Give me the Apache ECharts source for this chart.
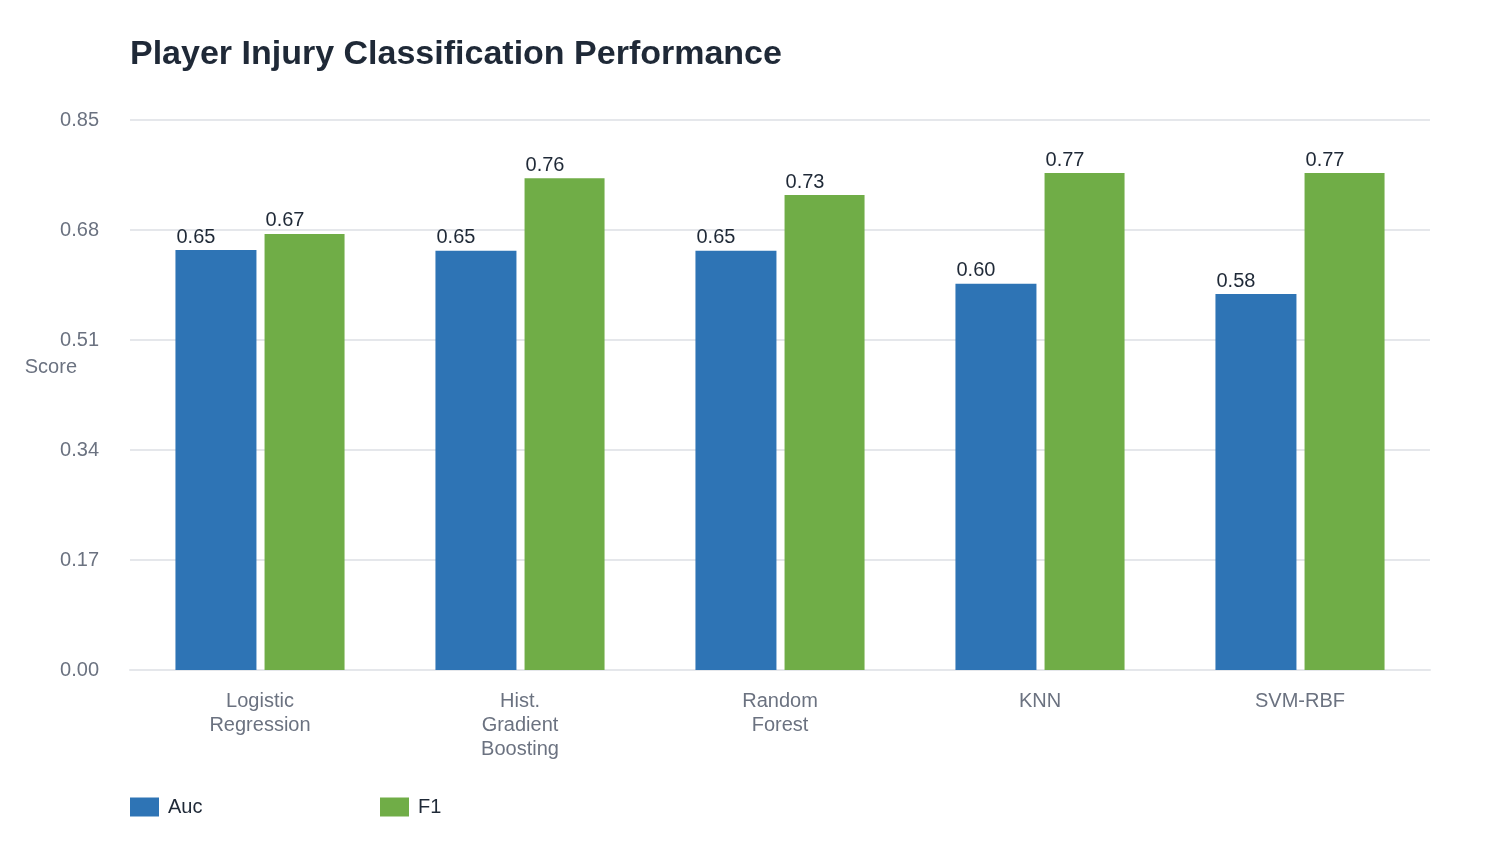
<!DOCTYPE html>
<html>
<head>
<meta charset="utf-8">
<script src="https://cdn.jsdelivr.net/npm/echarts@6/dist/echarts.min.js"></script>
<style>
  html, body { margin: 0; padding: 0; background: #fff; }
  #chart { width: 1500px; height: 850px; }
</style>
</head>
<body>
<div id="chart"></div>
<script>
var models = ['Logistic\nRegression', 'Hist.\nGradient\nBoosting', 'Random\nForest', 'KNN', 'SVM-RBF'];
var aucValues = [0.649, 0.648, 0.648, 0.597, 0.581];
var f1Values = [0.674, 0.760, 0.734, 0.768, 0.768];
var yTicks = [0, 0.17, 0.34, 0.51, 0.68, 0.85];

var chart = echarts.init(document.getElementById('chart'), null, { renderer: 'canvas' });

var font = 'Liberation Sans';

// value labels sit above the bar, aligned to its left edge
var labelStyle = {
    show: true,
    position: [1, -3],
    align: 'left',
    verticalAlign: 'bottom',
    color: '#1f2937',
    fontSize: 20,
    fontFamily: font,
    formatter: function (p) { return p.value.toFixed(2); }
};

var legendText = { fontSize: 20, color: '#1f2937', fontFamily: font, padding: [0, 0, 0, 4] };

var option = {
    animation: false,
    textStyle: { fontFamily: font },
    title: {
        text: 'Player Injury Classification Performance',
        left: 130,
        top: 38,
        padding: 0,
        textStyle: { fontSize: 34, fontWeight: 'bold', color: '#1f2937', fontFamily: font }
    },
    legend: [
        {
            left: 130, bottom: 33, padding: 0,
            itemWidth: 29, itemHeight: 19, icon: 'rect',
            textStyle: legendText,
            data: ['Auc']
        },
        {
            left: 380, bottom: 33, padding: 0,
            itemWidth: 29, itemHeight: 19, icon: 'rect',
            textStyle: legendText,
            data: ['F1']
        }
    ],
    grid: { left: 130, right: 70, top: 120, bottom: 180, containLabel: false },
    xAxis: {
        type: 'category',
        data: models,
        axisTick: { show: false },
        axisLine: { lineStyle: { color: '#e5e7eb', width: 2 } },
        axisLabel: { color: '#6b7280', fontSize: 20, margin: 19, lineHeight: 24, interval: 0 }
    },
    yAxis: {
        type: 'value',
        min: 0,
        max: 0.85,
        interval: 0.17,
        name: 'Score\n ',
        nameLocation: 'middle',
        nameRotate: 0,
        nameGap: 53,
        nameMoveOverlap: false,
        nameTextStyle: { color: '#6b7280', fontSize: 20, lineHeight: 56, align: 'right' },
        axisLine: { show: false },
        axisTick: { show: false },
        splitLine: { lineStyle: { color: '#e5e7eb', width: 2 } },
        axisLabel: {
            color: '#6b7280', fontSize: 20, margin: 31,
            formatter: function (v) { return v.toFixed(2); }
        }
    },
    series: [
        {
            name: 'Auc',
            type: 'bar',
            data: aucValues,
            barWidth: 81,
            barGap: '10%',
            itemStyle: { color: '#2e74b5' },
            label: labelStyle
        },
        {
            name: 'F1',
            type: 'bar',
            data: f1Values,
            barWidth: 80,
            barGap: '10%',
            itemStyle: { color: '#70ad47' },
            label: labelStyle
        }
    ]
};

chart.setOption(option);
</script>
</body>
</html>
